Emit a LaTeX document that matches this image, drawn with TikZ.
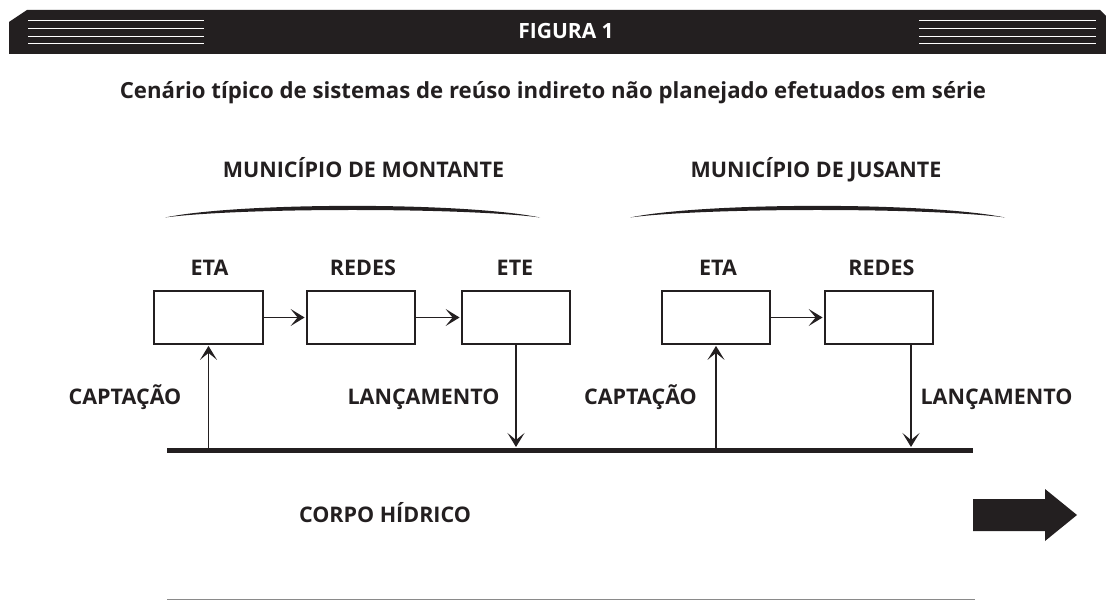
\documentclass[tikz,border=0pt]{standalone}
\usepackage{fontspec}
\setmainfont{Open Sans}
\usetikzlibrary{arrows.meta}
\definecolor{ink}{HTML}{231F20}
\definecolor{rule}{HTML}{8A8A8A}
\begin{document}
\begin{tikzpicture}[x=1pt,y=-1pt,
  lbl/.style={font=\bfseries\fontsize{21.5}{24}\selectfont, text=ink, inner sep=0pt, anchor=base},
  sub/.style={font=\bfseries\fontsize{22.2}{26}\selectfont, text=ink, inner sep=0pt, anchor=base},
  head/.style={font=\bfseries\fontsize{21}{22}\selectfont, text=white, inner sep=0pt, anchor=base},
  box/.style={draw=ink, line width=2.3pt, minimum width=108.5pt, minimum height=52.5pt, inner sep=0pt},
  flow/.style={draw=ink, line width=1.3pt, shorten >=1pt, -{Stealth[length=14pt,width=17pt,inset=7pt]}},
  hline/.style={white, line width=1pt},
]
\useasboundingbox (0,0) rectangle (1106,601);
% header bar
\fill[ink] (9,22) -- (27,10) -- (1100,10) -- (1106,16) -- (1106,54) -- (9,54) -- cycle;
\foreach \yy in {21,28.7,36.2,43.7}{
  \draw[hline] (28,\yy) -- (204,\yy);
  \draw[hline] (919,\yy) -- (1096,\yy);
}
\node[head] (fig) at (566,39) {FIGURA 1};
% subtitle
\node[sub] (title) at (553,99) {Cenário típico de sistemas de reúso indireto não planejado efetuados em série};
% municipality labels
\node[lbl] (mont) at (363.5,178) {MUNICÍPIO DE MONTANTE};
\node[lbl] (jus) at (816,178) {MUNICÍPIO DE JUSANTE};
% braces
\fill[ink] (165,217.5) .. controls (240,202) and (465,202) .. (540,217.5)
  .. controls (465,207.5) and (240,207.5) .. (165,217.5) -- cycle;
\fill[ink] (630,217.5) .. controls (705,202) and (930,202) .. (1005,217.5)
  .. controls (930,207.5) and (705,207.5) .. (630,217.5) -- cycle;
% boxes
\node[box] (eta1) at (208.5,317.5) {};
\node[box] (redes1) at (361,317.5) {};
\node[box] (ete1) at (516,317.5) {};
\node[box] (eta2) at (716,317.5) {};
\node[box] (redes2) at (879,317.5) {};
% box labels
\node[lbl] (leta1) at (209.5,276) {ETA};
\node[lbl] (lredes1) at (363,276) {REDES};
\node[lbl] (lete1) at (515,276) {ETE};
\node[lbl] (leta2) at (718,276) {ETA};
\node[lbl] (lredes2) at (881.5,276) {REDES};
% flows between boxes
\draw[flow] (eta1) -- (redes1);
\draw[flow] (redes1) -- (ete1);
\draw[flow] (eta2) -- (redes2);
% river
\coordinate (rivL) at (167,450.5);
\coordinate (rivR) at (973,450.5);
\draw[ink, line width=5pt] (rivL) -- (rivR);
\coordinate (cap1) at (208.5,448);
\coordinate (lan1) at (516,448);
\coordinate (cap2) at (716,448);
\coordinate (lan2top) at (911,344);
\coordinate (lan2) at (911,448);
\draw[flow] (cap1) -- (eta1.south);
\draw[flow] (ete1.south) -- (lan1);
\draw[flow] (cap2) -- (eta2.south);
\draw[flow] (lan2top) -- (lan2);
% flow labels
\node[lbl] (tcap1) at (125,405) {CAPTAÇÃO};
\node[lbl] (tlan1) at (423.5,405) {LANÇAMENTO};
\node[lbl] (tcap2) at (640.5,405) {CAPTAÇÃO};
\node[lbl] (tlan2) at (996.5,405) {LANÇAMENTO};
% water body
\node[lbl] (corpo) at (385,522) {CORPO HÍDRICO};
\fill[ink] (973,499) -- (1045,499) -- (1045,489) -- (1077,515) -- (1045,541) -- (1045,531) -- (973,531) -- cycle;
% bottom rule
\draw[rule, line width=1pt] (167,599) -- (975,599);
\end{tikzpicture}
\end{document}
